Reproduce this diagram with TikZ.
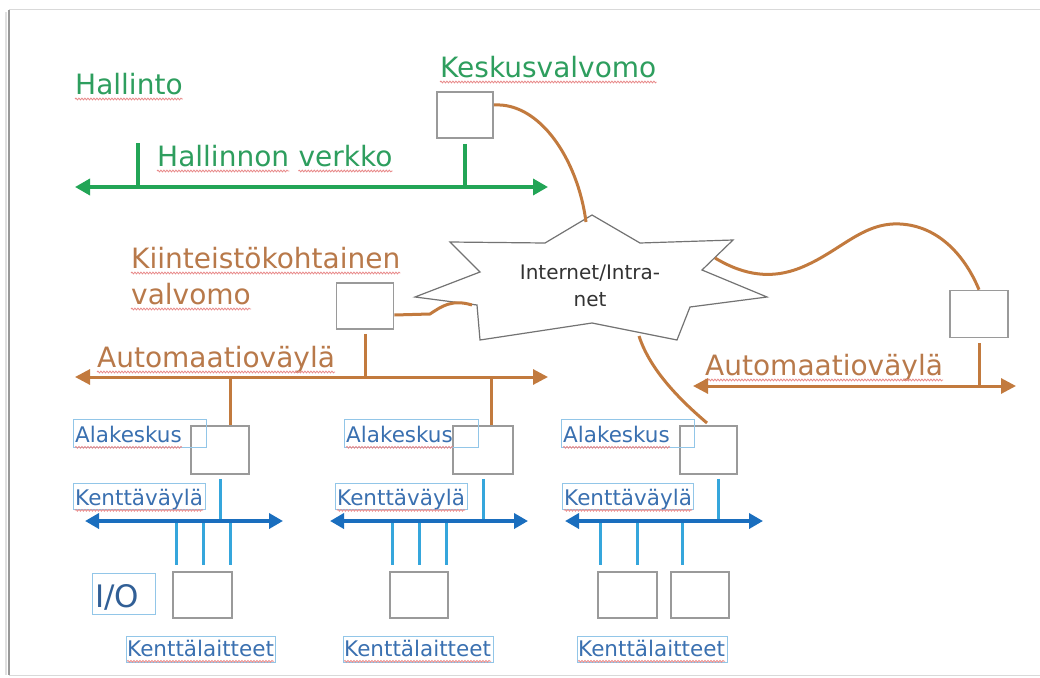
\documentclass[tikz,border=0pt]{standalone}
\usepackage{fontspec}
\setmainfont{DejaVu Sans}
\usetikzlibrary{arrows.meta,calc,decorations.pathmorphing}

\definecolor{hgreen}{HTML}{22A556}
\definecolor{htext}{HTML}{2E9E5E}
\definecolor{abrown}{HTML}{C27A3E}
\definecolor{atext}{HTML}{B8794A}
\definecolor{kblue}{HTML}{1A6EBE}
\definecolor{klight}{HTML}{35A6DC}
\definecolor{ktext}{HTML}{3A70B0}
\definecolor{kbox}{HTML}{92C6E8}
\definecolor{boxgray}{HTML}{9A9A9A}
\definecolor{squigred}{HTML}{E88A8A}

\tikzset{
  squigline/.style={draw=squigred, line width=0.8pt, decorate,
    decoration={snake, amplitude=0.9pt, segment length=3pt}},
  squig/.style={append after command={($(\tikzlastnode.base west)+(0,5)$) edge[squigline] ($(\tikzlastnode.base east)+(0,5)$)}},
  big/.style={font=\fontsize{28}{34}\selectfont, inner sep=0pt, anchor=base west},
  small/.style={font=\fontsize{21.5}{26}\selectfont, text=ktext, inner sep=0pt, anchor=base west},
  devbox/.style={draw=boxgray, line width=1.6pt, fill=white, inner sep=0pt},
  lbox/.style={draw=kbox, line width=1.3pt, inner sep=0pt, anchor=north west},
  gline/.style={draw=hgreen, line width=3.5pt},
  gbus/.style={gline, {Triangle[length=15pt,width=16pt]}-{Triangle[length=15pt,width=16pt]}},
  aline/.style={draw=abrown, line width=3pt},
  abus/.style={aline, {Triangle[length=15pt,width=15pt]}-{Triangle[length=15pt,width=15pt]}},
  kline/.style={draw=klight, line width=3pt},
  kbus/.style={draw=kblue, line width=3.5pt, {Triangle[length=14pt,width=15pt]}-{Triangle[length=14pt,width=15pt]}},
  starline/.style={draw=black!55, line width=1.2pt, fill=white}
}

\begin{document}
\begin{tikzpicture}[x=1pt,y=-1pt]
\useasboundingbox (0,0) rectangle (1040,677);
% frame
\draw[black!15, line width=1pt] (9,10) -- (1045,10);
\draw[black!15, line width=1pt] (9,675) -- (1045,675);
\draw[black!40, line width=2pt] (9,10) -- (9,675);
\draw[black!12, line width=2pt] (6,12) -- (6,675);

% ---------- Hallinto (green) ----------
\node[big, text=htext, squig] (hallinto) at (75,94) {Hallinto};
\node[big, text=htext, squig] (keskusl) at (440,77) {Keskusvalvomo};
\node[big, text=htext, squig] (hv1) at (157,166) {Hallinnon};
\node[big, text=htext, squig] (hv2) at ($(hv1.base east)+(9,0)$) {verkko};

\node[devbox, minimum width=56pt, minimum height=46pt] (kesk) at (465,115) {};

\coordinate (gL) at (75,187);
\coordinate (gR) at (548,187);
\coordinate (gT1) at (138,143);
\draw[gbus] (gL) -- (gR);
\draw[gline] (gT1) -- (gT1 |- gL);
\draw[gline, shorten <=5pt] (kesk.south) -- (kesk.south |- gL);

% ---------- Internet star ----------
\coordinate (sTop) at (592,215);
\draw[starline] (sTop) -- (640,243) -- (733,240) -- (702,270) -- (767,297)
  -- (690,307) -- (677,340) -- (592,323) -- (480,340) -- (477,305)
  -- (415,297) -- (480,272) -- (450,242) -- (545,243) -- cycle;
\node[font=\fontsize{20}{27}\selectfont, text=black!80, align=center] (inet) at (590,286) {Internet/Intra-\\net};
\coordinate (sKesk) at (586,222);
\coordinate (sLeft) at (472,305);
\coordinate (sRight) at (715,258);
\coordinate (sBot) at (639,336);

% ---------- Automation (brown) ----------
\node[big, text=atext, squig] (kiintl) at (131,268) {Kiinteistökohtainen};
\node[big, text=atext, squig] (valv) at (131,304) {valvomo};
\node[big, text=atext, squig] (auto1) at (97,367) {Automaatioväylä};
\node[big, text=atext, squig] (auto2) at (705,375) {Automaatioväylä};

\node[devbox, minimum width=57pt, minimum height=46pt] (kiint) at (365,306) {};
\node[devbox, minimum width=58pt, minimum height=47pt] (rbox) at (979,314) {};

\draw[aline] ([yshift=10pt]kesk.east) .. controls (540,102) and (578,160) .. (sKesk);
\draw[aline] ([yshift=-9pt]kiint.east) -- (430,314) .. controls (442,306) and (452,299) .. (sLeft);
\draw[aline] (sRight) .. controls (745,276) and (772,279) .. (800,268)
  .. controls (840,252) and (862,222) .. (900,224)
  .. controls (940,226) and (966,258) .. (rbox.north);

\coordinate (aL) at (75,377);
\coordinate (aR) at (548,377);
\draw[abus] (aL) -- (aR);
\draw[aline, shorten <=4pt] (kiint.south) -- (kiint.south |- aL);

\coordinate (bL) at (693,386);
\coordinate (bR) at (1016,386);
\draw[abus] (bL) -- (bR);
\draw[aline, shorten <=5pt] (rbox.south) -- (rbox.south |- bL);

% ---------- Alakeskus boxes ----------
\node[devbox, minimum width=58pt, minimum height=48pt] (ala1) at (220,450) {};
\node[devbox, minimum width=60pt, minimum height=48pt] (ala2) at (483,450) {};
\node[devbox, minimum width=57pt, minimum height=48pt] (ala3) at (708.5,450) {};

\coordinate (t1) at (230,377);
\coordinate (t2) at (491,377);
\draw[aline] (t1) -- (t1 |- ala1.north);
\draw[aline] (t2) -- (t2 |- ala2.north);
\draw[aline] (sBot) .. controls (650,370) and (680,400) .. (707,423);

% labels Alakeskus
\node[lbox, minimum width=133pt, minimum height=28pt] (al1) at (73,419) {};
\node[lbox, minimum width=134pt, minimum height=28pt] (al2) at (344,419) {};
\node[lbox, minimum width=133pt, minimum height=28pt] (al3) at (561,419) {};
\node[small, squig] (al1t) at ($(al1.south west)+(2,-6)$) {Alakeskus};
\node[small, squig] (al2t) at ($(al2.south west)+(2,-6)$) {Alakeskus};
\node[small, squig] (al3t) at ($(al3.south west)+(2,-6)$) {Alakeskus};

% labels Kenttäväylä
\node[lbox, minimum width=132pt, minimum height=26pt] (kv1) at (73,483) {};
\node[lbox, minimum width=132pt, minimum height=26pt] (kv2) at (335,483) {};
\node[lbox, minimum width=131pt, minimum height=26pt] (kv3) at (562,483) {};
\node[small, squig] (kv1t) at ($(kv1.south west)+(2,-5)$) {Kenttäväylä};
\node[small, squig] (kv2t) at ($(kv2.south west)+(2,-5)$) {Kenttäväylä};
\node[small, squig] (kv3t) at ($(kv3.south west)+(2,-5)$) {Kenttäväylä};

% field buses
\coordinate (k1L) at (85,521);  \coordinate (k1R) at (283,521);
\coordinate (k2L) at (330,521); \coordinate (k2R) at (528,521);
\coordinate (k3L) at (565,521); \coordinate (k3R) at (763,521);

\draw[kline, shorten <=4pt] (ala1.south) -- (ala1.south |- k1L);
\draw[kline, shorten <=4pt] (ala2.south) -- (ala2.south |- k2L);
\draw[kline, shorten <=4pt] ([xshift=10pt]ala3.south) -- ([xshift=10pt]ala3.south |- k3L);

% field devices
\node[devbox, minimum width=59pt, minimum height=46pt] (dev1) at (202.5,595) {};
\node[devbox, minimum width=58pt, minimum height=46pt] (dev2) at (419,595) {};
\node[devbox, minimum width=59pt, minimum height=46pt] (dev3) at (627.5,595) {};
\node[devbox, minimum width=58pt, minimum height=46pt] (dev4) at (700,595) {};

\draw[kline, shorten >=6pt] (176,0 |- k1L) -- (176,0 |- dev1.north);
\draw[kline, shorten >=6pt] (203,0 |- k1L) -- (203,0 |- dev1.north);
\draw[kline, shorten >=6pt] (230,0 |- k1L) -- (230,0 |- dev1.north);
\draw[kline, shorten >=6pt] (392,0 |- k2L) -- (392,0 |- dev2.north);
\draw[kline, shorten >=6pt] (419,0 |- k2L) -- (419,0 |- dev2.north);
\draw[kline, shorten >=6pt] (446,0 |- k2L) -- (446,0 |- dev2.north);
\draw[kline, shorten >=6pt] (600,0 |- k3L) -- (600,0 |- dev3.north);
\draw[kline, shorten >=6pt] (637,0 |- k3L) -- (637,0 |- dev3.north);
\draw[kline, shorten >=6pt] (682,0 |- k3L) -- (682,0 |- dev4.north);

\draw[kbus] (k1L) -- (k1R);
\draw[kbus] (k2L) -- (k2R);
\draw[kbus] (k3L) -- (k3R);

% I/O
\node[lbox, minimum width=63pt, minimum height=41pt] (io) at (92,573) {};
\node[font=\fontsize{31}{34}\selectfont, text=ktext!85!black, inner sep=0pt, anchor=base west] (iot) at ($(io.south west)+(3,-8)$) {I/O};

% Kenttälaitteet
\node[lbox, minimum width=149pt, minimum height=26pt] (kl1) at (126,636) {};
\node[lbox, minimum width=150pt, minimum height=26pt] (kl2) at (343,636) {};
\node[lbox, minimum width=150pt, minimum height=26pt] (kl3) at (577,636) {};
\node[small, squig] (kl1t) at ($(kl1.south west)+(1,-7)$) {Kenttälaitteet};
\node[small, squig] (kl2t) at ($(kl2.south west)+(1,-7)$) {Kenttälaitteet};
\node[small, squig] (kl3t) at ($(kl3.south west)+(1,-7)$) {Kenttälaitteet};
\end{tikzpicture}
\end{document}
